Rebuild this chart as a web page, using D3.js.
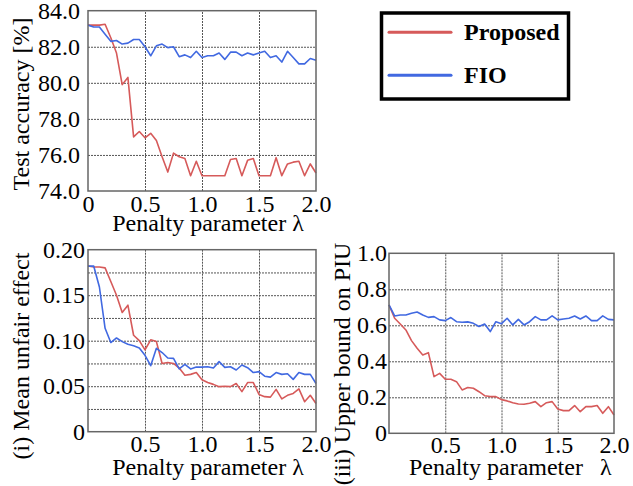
<!DOCTYPE html>
<html lang="en">
	<head>
		<meta charset="utf-8">
		<title>Penalty parameter sweep: Proposed vs FIO</title>
		<script type="text/javascript" src="https://d3js.org/d3.v7.min.js"></script>
		<style type="text/css">
			body { margin: 0; background: #fff; }
			svg text { font-family: "Times New Roman", Times, "Liberation Serif", "DejaVu Serif", serif !important; }
		</style>
	</head>
	<body>
		<script type="text/javascript">

			var w = 633;
			var h = 486;
			var serif = "'Times New Roman', Times, 'Liberation Serif', 'DejaVu Serif', serif";

			//penalty parameter values (x)
			var lambdas = [0, 0.05, 0.1, 0.15, 0.2, 0.25, 0.3, 0.35, 0.4, 0.45, 0.5,
						   0.55, 0.6, 0.65, 0.7, 0.75, 0.8, 0.85, 0.9, 0.95, 1.0,
						   1.05, 1.1, 1.15, 1.2, 1.25, 1.3, 1.35, 1.4, 1.45, 1.5,
						   1.55, 1.6, 1.65, 1.7, 1.75, 1.8, 1.85, 1.9, 1.95, 2.0];

			//test accuracy [%]
			var accProposed = [83.2, 83.2, 83.2, 83.25, 82.5, 81.65, 79.9, 80.3, 77.0, 77.3, 76.95,
							   77.2, 76.8, 75.9, 75.05, 76.1, 75.9, 75.8, 74.85, 75.65, 74.85,
							   74.85, 74.85, 74.85, 74.85, 75.75, 75.8, 74.85, 75.7, 75.8, 74.85,
							   74.85, 74.85, 75.85, 74.85, 75.5, 75.6, 75.65, 74.85, 75.5, 75.0];
			var accFIO = [83.2, 83.1, 83.1, 82.7, 82.3, 82.35, 82.15, 82.2, 82.4, 82.4, 82.0,
						  81.5, 82.05, 82.15, 81.95, 82.0, 81.45, 81.55, 81.4, 81.75, 81.4,
						  81.5, 81.5, 81.65, 81.3, 81.7, 81.7, 81.5, 81.65, 81.55, 81.65,
						  81.75, 81.4, 81.5, 81.15, 81.75, 81.4, 81.05, 81.05, 81.35, 81.25];

			//(i) mean unfair effect
			var unfairProposed = [0.182, 0.181, 0.181, 0.180, 0.165, 0.150, 0.131, 0.139, 0.106, 0.100, 0.090,
								  0.101, 0.099, 0.075, 0.076, 0.075, 0.070, 0.062, 0.063, 0.065, 0.057,
								  0.054, 0.052, 0.0495, 0.050, 0.0495, 0.053, 0.044, 0.054, 0.054, 0.041,
								  0.0385, 0.038, 0.0465, 0.036, 0.040, 0.042, 0.047, 0.033, 0.040, 0.031];
			var unfairFIO = [0.182, 0.182, 0.159, 0.1136, 0.098, 0.103, 0.099, 0.096, 0.0945, 0.092, 0.084,
							 0.0725, 0.0916, 0.087, 0.081, 0.0806, 0.069, 0.074, 0.069, 0.071, 0.071,
							 0.0714, 0.070, 0.077, 0.0707, 0.0714, 0.0678, 0.0733, 0.0703, 0.065, 0.066,
							 0.061, 0.060, 0.065, 0.063, 0.0637, 0.0575, 0.065, 0.063, 0.063, 0.053];

			//(iii) upper bound on PIU
			var piuProposed = [0.713, 0.639, 0.607, 0.574, 0.515, 0.472, 0.435, 0.448, 0.315, 0.333, 0.300,
							   0.300, 0.287, 0.241, 0.254, 0.250, 0.231, 0.209, 0.204, 0.204, 0.187,
							   0.180, 0.170, 0.163, 0.161, 0.167, 0.176, 0.148, 0.170, 0.176, 0.135,
							   0.126, 0.126, 0.154, 0.120, 0.148, 0.148, 0.154, 0.111, 0.148, 0.102];
			var piuFIO = [0.713, 0.652, 0.657, 0.657, 0.667, 0.674, 0.657, 0.644, 0.648, 0.630, 0.626,
						  0.643, 0.620, 0.617, 0.619, 0.611, 0.593, 0.607, 0.565, 0.620, 0.609,
						  0.639, 0.602, 0.633, 0.602, 0.620, 0.648, 0.630, 0.630, 0.652, 0.630,
						  0.635, 0.639, 0.652, 0.635, 0.652, 0.626, 0.626, 0.652, 0.633, 0.630];

			var seriesNames = ["Proposed", "FIO"];
			var seriesColors = ["#d65a5a", "#4169e1"];

			var svg = d3.select("body")
						.append("svg")
						.attr("width", w)
						.attr("height", h)
						.attr("font-family", serif);

			svg.append("rect").attr("width", w).attr("height", h).attr("fill", "#fff");

			//one panel = frame, dotted grid, tick labels, two lines
			function panel(p) {
				var x = d3.scaleLinear().domain([0, 2]).range([p.x0, p.x1]);
				var y = d3.scaleLinear().domain(p.yDomain).range([p.y1, p.y0]);
				var g = svg.append("g");

				//grid
				g.append("g")
				 .attr("transform", "translate(0," + p.y1 + ")")
				 .call(d3.axisBottom(x).tickValues([0.5, 1.0, 1.5]).tickSize(-(p.y1 - p.y0)).tickFormat(""))
				 .call(function(s) { s.select(".domain").remove(); });
				g.append("g")
				 .attr("transform", "translate(" + p.x0 + ",0)")
				 .call(d3.axisLeft(y).tickValues(p.yGrid).tickSize(-(p.x1 - p.x0)).tickFormat(""))
				 .call(function(s) { s.select(".domain").remove(); });
				g.selectAll(".tick line")
				 .attr("stroke", "#555")
				 .attr("stroke-width", 1)
				 .attr("stroke-dasharray", "2,1");

				//lines
				var line = d3.line()
							 .x(function(d, i) { return x(lambdas[i]); })
							 .y(function(d) { return y(d); });
				p.series.forEach(function(s, i) {
					g.append("path")
					 .attr("d", line(s))
					 .attr("fill", "none")
					 .attr("stroke", seriesColors[i])
					 .attr("stroke-width", 1.6)
					 .attr("stroke-linejoin", "round");
				});

				//frame
				g.append("rect")
				 .attr("x", p.x0).attr("y", p.y0)
				 .attr("width", p.x1 - p.x0).attr("height", p.y1 - p.y0)
				 .attr("fill", "none").attr("stroke", "#666").attr("stroke-width", 1.5);

				//tick labels
				var xl = g.append("g")
						  .attr("transform", "translate(0," + p.y1 + ")")
						  .call(d3.axisBottom(x).tickValues(p.xTicks).tickSize(0).tickPadding(p.xPad)
								.tickFormat(function(d) { return d === 0 ? "0" : d3.format(".1f")(d); }));
				var yl = g.append("g")
						  .attr("transform", "translate(" + p.x0 + ",0)")
						  .call(d3.axisLeft(y).tickValues(p.yTicks).tickSize(0).tickPadding(p.yPad)
								.tickFormat(p.yFormat));
				[xl, yl].forEach(function(a) {
					a.attr("font-family", serif).attr("font-size", 24);
					a.select(".domain").remove();
					a.selectAll("text").attr("fill", "#000");
				});

				//y label
				g.append("text")
				 .attr("transform", "translate(" + p.yLabelX + "," + p.yLabelY + ") rotate(-90)")
				 .attr("text-anchor", "middle")
				 .attr("font-size", 24)
				 .text(p.yLabel);

				//x label
				g.append("text")
				 .attr("x", p.xLabelX)
				 .attr("y", p.xLabelY)
				 .attr("text-anchor", p.xLabelAnchor)
				 .attr("font-size", 24)
				 .text(p.xLabel);
				if (p.lambdaX) {
					g.append("text")
					 .attr("x", p.lambdaX)
					 .attr("y", p.xLabelY)
					 .attr("font-size", 24)
					 .text("λ");
				}
			}

			panel({
				x0: 88, x1: 316, y0: 10.7, y1: 191,
				yDomain: [74, 84], yGrid: [76, 78, 80, 82],
				yTicks: [74, 76, 78, 80, 82, 84], yFormat: d3.format(".1f"),
				xTicks: [0, 0.5, 1.0, 1.5, 2.0], xPad: 4, yPad: 8,
				series: [accProposed, accFIO],
				yLabel: "Test accuracy [%]", yLabelX: 28.5, yLabelY: 104,
				xLabel: "Penalty parameter λ", xLabelX: 208, xLabelY: 231, xLabelAnchor: "middle"
			});

			panel({
				x0: 88, x1: 316, y0: 249.7, y1: 431.7,
				yDomain: [0, 0.2], yGrid: [0.025, 0.05, 0.075, 0.1, 0.125, 0.15, 0.175],
				yTicks: [0, 0.05, 0.1, 0.15, 0.2],
				yFormat: function(d) { return d === 0 ? "0" : d3.format(".2f")(d); },
				xTicks: [0.5, 1.0, 1.5, 2.0], xPad: 3, yPad: 3,
				series: [unfairProposed, unfairFIO],
				yLabel: "(i) Mean unfair effect", yLabelX: 28.5, yLabelY: 356,
				xLabel: "Penalty parameter λ", xLabelX: 208, xLabelY: 475, xLabelAnchor: "middle"
			});

			panel({
				x0: 389, x1: 614, y0: 253.3, y1: 433.3,
				yDomain: [0, 1], yGrid: [0.2, 0.4, 0.6, 0.8],
				yTicks: [0, 0.2, 0.4, 0.6, 0.8, 1.0],
				yFormat: function(d) { return d === 0 ? "0" : d3.format(".1f")(d); },
				xTicks: [0.5, 1.0, 1.5, 2.0], xPad: 3, yPad: 2,
				series: [piuProposed, piuFIO],
				yLabel: "(iii) Upper bound on PIU", yLabelX: 350, yLabelY: 364,
				xLabel: "Penalty parameter", xLabelX: 409, xLabelY: 475, xLabelAnchor: "start",
				lambdaX: 600
			});

			//legend
			var legend = svg.append("g");
			legend.append("rect")
				  .attr("x", 381.5).attr("y", 13)
				  .attr("width", 187).attr("height", 86)
				  .attr("fill", "#fff").attr("stroke", "#000").attr("stroke-width", 3.5);
			seriesNames.forEach(function(name, i) {
				var ly = 32.3 + i * 43;
				legend.append("line")
					  .attr("x1", 389).attr("x2", 451)
					  .attr("y1", ly).attr("y2", ly)
					  .attr("stroke", seriesColors[i])
					  .attr("stroke-width", 3)
					  .attr("stroke-linecap", "round");
				legend.append("text")
					  .attr("x", 464)
					  .attr("y", ly + 8)
					  .attr("font-size", 24)
					  .attr("font-weight", "bold")
					  .text(name);
			});

		</script>
	</body>
</html>
